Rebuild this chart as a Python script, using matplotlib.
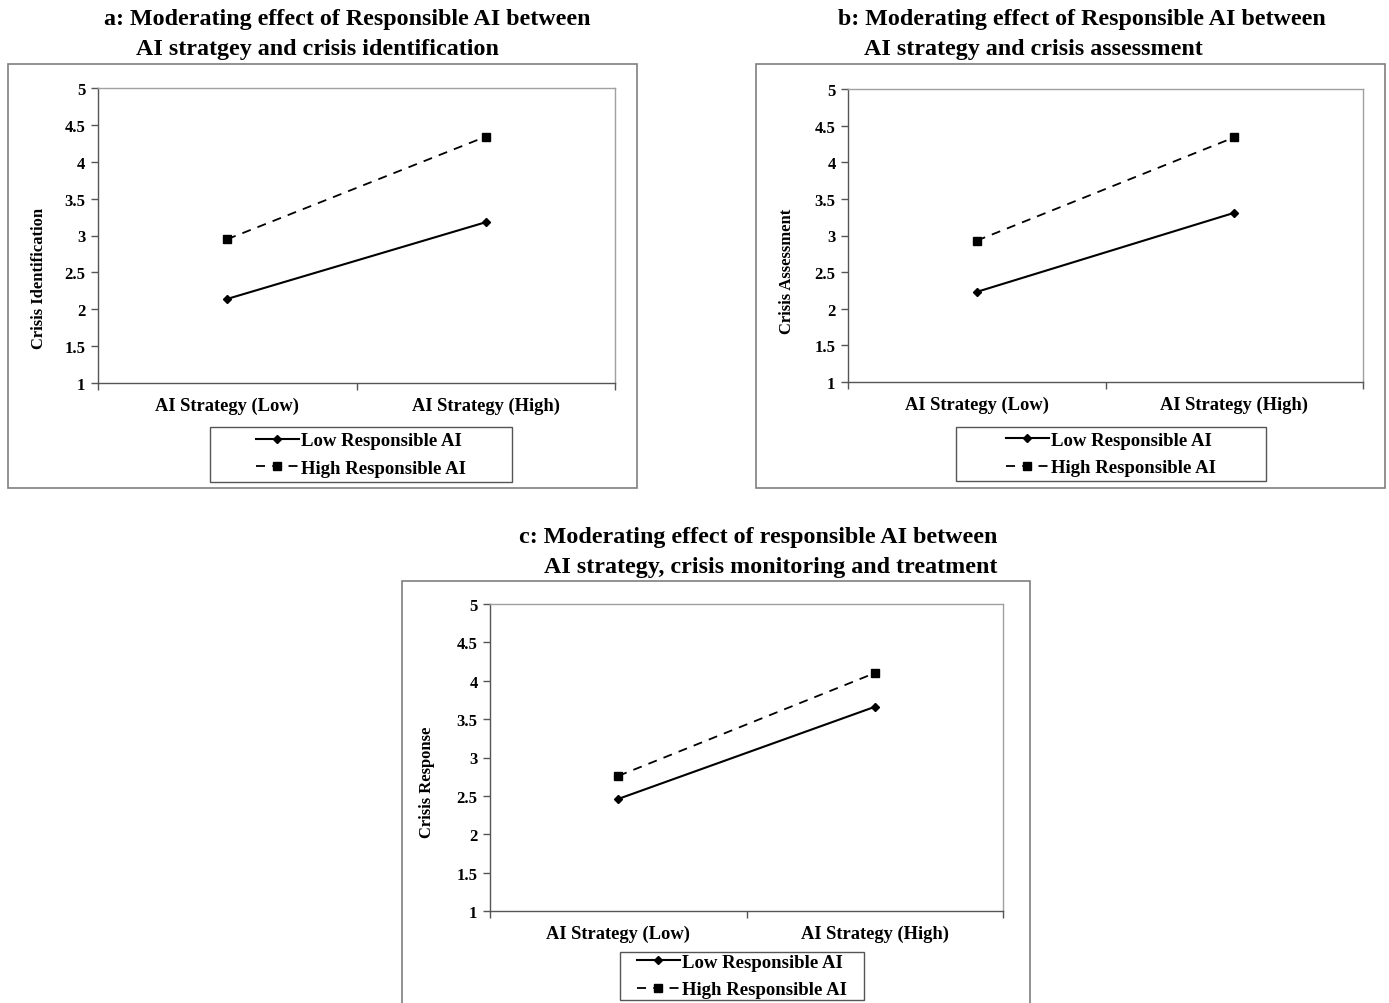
import matplotlib
matplotlib.use("Agg")
import matplotlib.pyplot as plt
from matplotlib.patches import Rectangle
from matplotlib.ticker import FormatStrFormatter

plt.rcParams['font.family'] = ['Liberation Serif', 'DejaVu Serif']
plt.rcParams['font.weight'] = 'bold'

categories = ["AI Strategy (Low)", "AI Strategy (High)"]
series_names = ["Low Responsible AI", "High Responsible AI"]

a_low = [2.14, 3.18]
a_high = [2.95, 4.34]
b_low = [2.23, 3.31]
b_high = [2.93, 4.34]
c_low = [2.46, 3.66]
c_high = [2.76, 4.10]

ylabels = ["Crisis Identification", "Crisis Assessment", "Crisis Response"]
titles = [
    ["a: Moderating effect of Responsible AI between", "AI stratgey and crisis identification"],
    ["b: Moderating effect of Responsible AI between", "AI strategy and crisis assessment"],
    ["c: Moderating effect of responsible AI between", "AI strategy, crisis monitoring and treatment"],
]

W, H = 1389, 1004
fig = plt.figure(figsize=(W / 100, H / 100), dpi=100)

def fx(px):
    return px / W

def fy(py):
    return 1 - py / H

panels = [
    dict(data=(a_low, a_high), plot=(98, 89, 615, 384), outer=(8, 65, 637, 489),
         legend=(210, 428, 512, 483), ylab=(47, 278),
         title=[(104, 20, 'left'), (136, 49, 'left')]),
    dict(data=(b_low, b_high), plot=(848, 90, 1363, 383), outer=(756, 65, 1385, 489),
         legend=(956, 428, 1266, 482), ylab=(795, 271),
         title=[(838, 20, 'left'), (864, 49, 'left')]),
    dict(data=(c_low, c_high), plot=(490, 605, 1003, 912), outer=(402, 582, 1030, 1010),
         legend=(620, 953, 864, 1001), ylab=(435, 782),
         title=[(997, 538, 'right'), (997, 567, 'right')]),
]

for i, p in enumerate(panels):
    ox0, oy0, ox1, oy1 = p['outer']
    fig.patches.append(Rectangle((fx(ox0), fy(oy1)), fx(ox1 - ox0), (oy1 - oy0) / H,
                                 transform=fig.transFigure, fill=False,
                                 edgecolor='#7f7f7f', linewidth=1.2, zorder=0))
    for (tx, ty, ha), line in zip(p['title'], titles[i]):
        fig.text(fx(tx), fy(ty), line, ha=ha, va='center', fontsize=17.3, fontweight='bold')

    x0, y0, x1, y1 = p['plot']
    ax = fig.add_axes([fx(x0), fy(y1), fx(x1 - x0), (y1 - y0) / H])
    low, high = p['data']
    xs = [0.5, 1.5]
    l1, = ax.plot(xs, low, color='black', linewidth=1.5, marker='D', markersize=4,
                  label=series_names[0])
    l2, = ax.plot(xs, high, color='black', linewidth=1.3, linestyle=(0, (5, 4)),
                  marker='s', markersize=5.5, label=series_names[1])
    ax.set_xlim(0, 2)
    ax.set_ylim(1, 5)
    ax.set_yticks([1, 1.5, 2, 2.5, 3, 3.5, 4, 4.5, 5])
    ax.yaxis.set_major_formatter(FormatStrFormatter('%g'))
    ax.set_xticks([0, 1, 2])
    ax.set_xticklabels([])
    ax.set_xticks(xs, minor=True)
    ax.set_xticklabels(categories, minor=True)
    ax.tick_params(axis='x', which='minor', length=0, pad=10, labelsize=13.3)
    ax.tick_params(axis='x', which='major', length=5, direction='out', width=1, color='#555555')
    ax.tick_params(axis='y', length=5, direction='out', labelsize=12, pad=4, width=1, color='#555555')
    for lab in ax.get_xticklabels(minor=True) + ax.get_yticklabels():
        lab.set_fontweight('bold')
    ax.spines['left'].set_color('#555555')
    ax.spines['bottom'].set_color('#555555')
    ax.spines['top'].set_color('#a0a0a0')
    ax.spines['right'].set_color('#a0a0a0')
    for s in ax.spines.values():
        s.set_linewidth(1.0)
    ax.set_ylabel(ylabels[i], fontsize=12, fontweight='bold')
    lx, ly = p['ylab']
    ax.yaxis.set_label_coords((lx - x0) / (x1 - x0), (y1 - ly) / (y1 - y0))

    gx0, gy0, gx1, gy1 = p['legend']
    fig.patches.append(Rectangle((fx(gx0), fy(gy1)), fx(gx1 - gx0), (gy1 - gy0) / H,
                                 transform=fig.transFigure, fill=True, facecolor='white',
                                 edgecolor='#555555', linewidth=1.0, zorder=1))
    leg = fig.legend(handles=[l1, l2], loc='center',
                     bbox_to_anchor=(fx(gx0), fy(gy1), fx(gx1 - gx0), (gy1 - gy0) / H),
                     bbox_transform=fig.transFigure, fancybox=False, frameon=False,
                     prop={'size': 13.5, 'weight': 'bold'}, handlelength=2.3,
                     handletextpad=0.15, borderpad=0.2, labelspacing=0.55, numpoints=1)
    leg.set_zorder(3)

fig.savefig('out.png', dpi=100, facecolor='white')
